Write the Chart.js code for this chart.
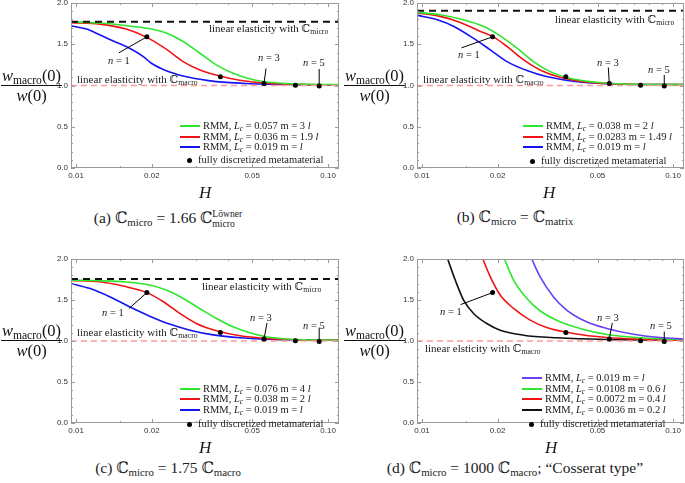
<!DOCTYPE html>
<html>
<head>
<meta charset="utf-8">
<script src="https://cdn.jsdelivr.net/npm/chart.js@4.4.1/dist/chart.umd.min.js"></script>
<style>
  body { margin: 0; background: #fff; }
  #fig { position: relative; width: 685px; height: 483px; overflow: hidden; }
  canvas { position: absolute; }
  .t { position: absolute; font-family: "Liberation Serif", "DejaVu Serif", serif; font-size: 10.5px; line-height: 1; white-space: nowrap; color: #1a1a1a; }
  .t sub { font-size: 70%; vertical-align: -0.25em; line-height: 0; }
  .el { font-size: 11px; }
  .bb { font-family: "DejaVu Serif", "DejaVu Sans", serif; font-style: normal; }
  .frac { position: absolute; font-family: "Liberation Serif", "DejaVu Serif", serif; font-size: 16.5px; line-height: 1.05; text-align: center; color: #111; }
  .frac .num { border-bottom: 1px solid #111; padding: 0 1px 1px; }
  .frac .den { padding-top: 1px; }
  .frac sub { font-size: 70%; vertical-align: -0.25em; line-height: 0; }
  .hl { font-size: 17px; font-style: italic; }
  .cap { font-size: 15.5px; text-align: center; }
  .ss { display: inline-flex; flex-direction: column; font-size: 62%; vertical-align: 6px; line-height: 1; text-align: left; }
  .leg { display: flex; align-items: center; height: 12px; }
  .sw { display: inline-block; width: 20px; border-top: 2px solid; margin-right: 3px; }
  .dot { display: inline-block; width: 5px; height: 5px; border-radius: 50%; background: #000; margin: 0 6px 0 7px; }
</style>
</head>
<body>
<div id="fig">
  <canvas id="chartA" width="305" height="196" style="left:40px;top:-6px"></canvas>
  <canvas id="chartB" width="300" height="196" style="left:385px;top:-6px"></canvas>
  <canvas id="chartC" width="305" height="195" style="left:40px;top:250px"></canvas>
  <canvas id="chartD" width="300" height="195" style="left:385px;top:250px"></canvas>

  <!-- (a) -->
  <div class="frac" style="left:1px;top:67px"><div class="num"><i>w</i><sub>macro</sub>(0)</div><div class="den"><i>w</i>(0)</div></div>
  <div class="t el" style="left:209px;top:23px">linear elasticity with <span class="bb">ℂ</span><sub>micro</sub></div>
  <div class="t el" style="left:77px;top:74px">linear elasticity with <span class="bb">ℂ</span><sub>macro</sub></div>
  <div class="t" style="left:108px;top:56px"><i>n</i> = 1</div>
  <div class="t" style="left:258px;top:53px"><i>n</i> = 3</div>
  <div class="t" style="left:303px;top:58px"><i>n</i> = 5</div>
  <div class="t leg" style="left:180px;top:120px"><span class="sw" style="border-color:#2ee62e"></span><span>RMM, <i>L<sub>c</sub></i> = 0.057 m = 3 <i>l</i></span></div>
  <div class="t leg" style="left:180px;top:131px"><span class="sw" style="border-color:#f01414"></span><span>RMM, <i>L<sub>c</sub></i> = 0.036 m = 1.9 <i>l</i></span></div>
  <div class="t leg" style="left:180px;top:141px"><span class="sw" style="border-color:#1414f0"></span><span>RMM, <i>L<sub>c</sub></i> = 0.019 m = <i>l</i></span></div>
  <div class="t leg" style="left:180px;top:154px"><span class="dot"></span><span>fully discretized metamaterial</span></div>
  <div class="t hl" style="left:199px;top:184px">H</div>
  <div class="t cap" style="left:0px;width:336px;top:209px">(a) <span class="bb">ℂ</span><sub>micro</sub> = 1.66 <span class="bb">ℂ</span><span class="ss"><span>Löwner</span><span>micro</span></span></div>

  <!-- (b) -->
  <div class="frac" style="left:344px;top:67px"><div class="num"><i>w</i><sub>macro</sub>(0)</div><div class="den"><i>w</i>(0)</div></div>
  <div class="t el" style="left:555px;top:14px">linear elasticity with <span class="bb">ℂ</span><sub>micro</sub></div>
  <div class="t el" style="left:423px;top:74px">linear elasticity with <span class="bb">ℂ</span><sub>macro</sub></div>
  <div class="t" style="left:458px;top:50px"><i>n</i> = 1</div>
  <div class="t" style="left:597px;top:58px"><i>n</i> = 3</div>
  <div class="t" style="left:648px;top:65px"><i>n</i> = 5</div>
  <div class="t leg" style="left:523px;top:120px"><span class="sw" style="border-color:#2ee62e"></span><span>RMM, <i>L<sub>c</sub></i> = 0.038 m = 2 <i>l</i></span></div>
  <div class="t leg" style="left:523px;top:131px"><span class="sw" style="border-color:#f01414"></span><span>RMM, <i>L<sub>c</sub></i> = 0.0283 m = 1.49 <i>l</i></span></div>
  <div class="t leg" style="left:523px;top:141px"><span class="sw" style="border-color:#1414f0"></span><span>RMM, <i>L<sub>c</sub></i> = 0.019 m = <i>l</i></span></div>
  <div class="t leg" style="left:523px;top:155px"><span class="dot"></span><span>fully discretized metamaterial</span></div>
  <div class="t hl" style="left:543px;top:184px">H</div>
  <div class="t cap" style="left:345px;width:340px;top:209px">(b) <span class="bb">ℂ</span><sub>micro</sub> = <span class="bb">ℂ</span><sub>matrix</sub></div>

  <!-- (c) -->
  <div class="frac" style="left:1px;top:322px"><div class="num"><i>w</i><sub>macro</sub>(0)</div><div class="den"><i>w</i>(0)</div></div>
  <div class="t el" style="left:202px;top:281px">linear elasticity with <span class="bb">ℂ</span><sub>micro</sub></div>
  <div class="t el" style="left:77px;top:327px">linear elasticity with <span class="bb">ℂ</span><sub>macro</sub></div>
  <div class="t" style="left:102px;top:308px"><i>n</i> = 1</div>
  <div class="t" style="left:250px;top:313px"><i>n</i> = 3</div>
  <div class="t" style="left:303px;top:321px"><i>n</i> = 5</div>
  <div class="t leg" style="left:180px;top:383px"><span class="sw" style="border-color:#2ee62e"></span><span>RMM, <i>L<sub>c</sub></i> = 0.076 m = 4 <i>l</i></span></div>
  <div class="t leg" style="left:180px;top:393px"><span class="sw" style="border-color:#f01414"></span><span>RMM, <i>L<sub>c</sub></i> = 0.038 m = 2 <i>l</i></span></div>
  <div class="t leg" style="left:180px;top:404px"><span class="sw" style="border-color:#1414f0"></span><span>RMM, <i>L<sub>c</sub></i> = 0.019 m = <i>l</i></span></div>
  <div class="t leg" style="left:180px;top:418px"><span class="dot"></span><span>fully discretized metamaterial</span></div>
  <div class="t hl" style="left:199px;top:439px">H</div>
  <div class="t cap" style="left:0px;width:336px;top:460px">(c) <span class="bb">ℂ</span><sub>micro</sub> = 1.75 <span class="bb">ℂ</span><sub>macro</sub></div>

  <!-- (d) -->
  <div class="frac" style="left:344px;top:322px"><div class="num"><i>w</i><sub>macro</sub>(0)</div><div class="den"><i>w</i>(0)</div></div>
  <div class="t el" style="left:425px;top:343px">linear elsticity with <span class="bb">ℂ</span><sub>macro</sub></div>
  <div class="t" style="left:440px;top:307px"><i>n</i> = 1</div>
  <div class="t" style="left:597px;top:313px"><i>n</i> = 3</div>
  <div class="t" style="left:650px;top:321px"><i>n</i> = 5</div>
  <div class="t leg" style="left:522px;top:372px"><span class="sw" style="border-color:#6a40f0"></span><span>RMM, <i>L<sub>c</sub></i> = 0.019 m = <i>l</i></span></div>
  <div class="t leg" style="left:522px;top:383px"><span class="sw" style="border-color:#2ee62e"></span><span>RMM, <i>L<sub>c</sub></i> = 0.0108 m = 0.6 <i>l</i></span></div>
  <div class="t leg" style="left:522px;top:393px"><span class="sw" style="border-color:#f01414"></span><span>RMM, <i>L<sub>c</sub></i> = 0.0072 m = 0.4 <i>l</i></span></div>
  <div class="t leg" style="left:522px;top:404px"><span class="sw" style="border-color:#111"></span><span>RMM, <i>L<sub>c</sub></i> = 0.0036 m = 0.2 <i>l</i></span></div>
  <div class="t leg" style="left:522px;top:418px"><span class="dot"></span><span>fully discretized metamaterial</span></div>
  <div class="t hl" style="left:545px;top:439px">H</div>
  <div class="t cap" style="left:345px;width:340px;top:460px">(d) <span class="bb">ℂ</span><sub>micro</sub> = 1000 <span class="bb">ℂ</span><sub>macro</sub>; “Cosserat type”</div>
</div>

<script>
// axis setup
const H_MIN = 0.00955;
const H_MAX = 0.1105;
const xMajor = [0.01, 0.02, 0.05, 0.1];
const xMajorLabels = ['0.01', '0.02', '0.05', '0.10'];
const xMinor = [0.015, 0.03, 0.04, 0.06, 0.07, 0.08, 0.09];
const yMajor = [0, 0.5, 1, 1.5, 2];
const yMinor = [0.1, 0.2, 0.3, 0.4, 0.6, 0.7, 0.8, 0.9, 1.1, 1.2, 1.3, 1.4, 1.6, 1.7, 1.8, 1.9];

// fully discretized metamaterial (n = 1..5)
const discreteH = [0.0191, 0.0374, 0.0557, 0.0742, 0.0922];
const discreteW = [1.59, 1.105, 1.025, 1.003, 0.993];

// reference levels
const macroLevel = 1.0;
const microLevelA = 1.773;
const microLevelB = 1.907;
const microLevelC = 1.756;

// (a) C_micro = 1.66 C_micro^Loewner   [H, w_macro/w]
const aGreen = [[0.0095,1.773],[0.0124,1.757],[0.0168,1.716],[0.0199,1.684],[0.0228,1.635],[0.0266,1.533],[0.031,1.391],[0.036,1.25],[0.042,1.148],[0.0496,1.075],[0.0569,1.043],[0.0772,1.018],[0.1106,1.01]];
const aRed   = [[0.0095,1.761],[0.0124,1.744],[0.0158,1.684],[0.019,1.586],[0.0228,1.44],[0.0266,1.29],[0.031,1.189],[0.0372,1.115],[0.0446,1.063],[0.0552,1.03],[0.0772,1.014],[0.1106,1.006]];
const aBlue  = [[0.0095,1.724],[0.011,1.684],[0.0124,1.615],[0.0142,1.533],[0.0163,1.452],[0.0185,1.351],[0.0199,1.27],[0.0228,1.18],[0.0266,1.116],[0.031,1.075],[0.036,1.047],[0.0489,1.022],[0.0772,1.01],[0.1106,1.006]];

// (b) C_micro = C_matrix
const bGreen = [[0.0096,1.886],[0.0118,1.858],[0.0146,1.797],[0.0176,1.716],[0.0205,1.602],[0.0239,1.452],[0.0278,1.29],[0.0324,1.168],[0.0388,1.087],[0.0481,1.043],[0.0632,1.018],[0.1106,1.01]];
const bRed   = [[0.0096,1.878],[0.0118,1.838],[0.0142,1.765],[0.0171,1.655],[0.0193,1.586],[0.0218,1.473],[0.0254,1.31],[0.0295,1.189],[0.0355,1.099],[0.0438,1.047],[0.0577,1.022],[0.1106,1.01]];
const bBlue  = [[0.0096,1.85],[0.0115,1.797],[0.0134,1.716],[0.016,1.574],[0.0187,1.432],[0.0218,1.29],[0.0262,1.181],[0.0313,1.108],[0.04,1.051],[0.0544,1.022],[0.1106,1.01]];

// (c) C_micro = 1.75 C_macro
const cGreen = [[0.0095,1.743],[0.0124,1.735],[0.0159,1.719],[0.0196,1.682],[0.0228,1.621],[0.0266,1.519],[0.0309,1.397],[0.0361,1.275],[0.042,1.173],[0.0489,1.1],[0.0569,1.051],[0.0706,1.022],[0.1106,1.01]];
const cRed   = [[0.0095,1.739],[0.0124,1.723],[0.0154,1.67],[0.019,1.593],[0.0222,1.479],[0.0258,1.336],[0.03,1.214],[0.0361,1.124],[0.0447,1.063],[0.0569,1.031],[0.0772,1.014],[0.1106,1.01]];
const cBlue  = [[0.0095,1.703],[0.0113,1.642],[0.0136,1.54],[0.0163,1.417],[0.0196,1.303],[0.0235,1.206],[0.0283,1.132],[0.035,1.075],[0.0447,1.039],[0.0606,1.018],[0.1106,1.01]];

// (d) C_micro = 1000 C_macro, Cosserat type
const dPurple = [[0.02735,2.0],[0.02952,1.784],[0.03334,1.54],[0.03767,1.377],[0.04522,1.234],[0.0544,1.153],[0.0695,1.083],[0.0886,1.043],[0.1106,1.022]];
const dGreen  = [[0.0213,2.0],[0.02315,1.743],[0.02615,1.519],[0.02952,1.369],[0.03546,1.234],[0.04258,1.153],[0.0544,1.079],[0.0737,1.039],[0.1106,1.014]];
const dRed    = [[0.01747,2.0],[0.01869,1.784],[0.02048,1.56],[0.02315,1.397],[0.02695,1.255],[0.03134,1.165],[0.04,1.092],[0.0544,1.043],[0.0737,1.022],[0.1106,1.01]];
const dBlack  = [[0.01265,2.0],[0.01356,1.743],[0.01464,1.499],[0.01604,1.336],[0.01811,1.214],[0.02048,1.132],[0.02535,1.071],[0.0344,1.039],[0.0544,1.018],[0.1106,1.01]];

const GREEN = '#2ee62e', RED = '#f01414', BLUE = '#1414f0', PURPLE = '#6a40f0', BLACK = '#111';

// pointer lines "n = k": [point index, dx, dy] in pixels from the point
const notesA = [[0, -28, 16], [2, 2, -15], [4, 0, -17]];
const notesB = [[0, -31, 11], [2, -1, -16], [4, 0, -11]];
const notesC = [[0, -18, 16], [2, 3, -16], [4, 0, -14]];
const notesD = [[0, -32, 12], [2, 3, -16], [4, 0, -10]];

const frameTicks = {
    id: 'frameTicks',
    afterDraw(chart, args, opts) {
        const { ctx, chartArea: a, scales: { x, y } } = chart;
        ctx.save();
        ctx.strokeStyle = '#9a9a9a';
        ctx.lineWidth = 1;
        ctx.strokeRect(a.left + 0.5, a.top + 0.5, a.right - a.left - 1, a.bottom - a.top - 1);
        ctx.beginPath();
        const xt = (v, len) => {
            const px = Math.round(x.getPixelForValue(v)) + 0.5;
            ctx.moveTo(px, a.bottom); ctx.lineTo(px, a.bottom - len);
            ctx.moveTo(px, a.top); ctx.lineTo(px, a.top + len);
        };
        const yt = (v, len) => {
            const py = Math.round(y.getPixelForValue(v)) + 0.5;
            ctx.moveTo(a.left, py); ctx.lineTo(a.left + len, py);
            ctx.moveTo(a.right, py); ctx.lineTo(a.right - len, py);
        };
        xMajor.forEach(v => xt(v, 4));
        xMinor.forEach(v => xt(v, 2));
        yMajor.forEach(v => yt(v, 4));
        yMinor.forEach(v => yt(v, 2));
        ctx.stroke();

        // pointer lines to the discrete points
        ctx.strokeStyle = '#000';
        ctx.beginPath();
        (opts.notes || []).forEach(([i, dx, dy]) => {
            const px = x.getPixelForValue(discreteH[i]);
            const py = y.getPixelForValue(discreteW[i]);
            ctx.moveTo(px, py);
            ctx.lineTo(px + dx, py + dy);
        });
        ctx.stroke();
        ctx.restore();
    }
};

function curve(pts, color, order) {
    return {
        data: pts.map(p => ({ x: p[0], y: p[1] })),
        borderColor: color, borderWidth: 1.6, pointRadius: 0,
        cubicInterpolationMode: 'monotone', fill: false, order: order
    };
}

function level(v, color, width, dash) {
    return {
        data: [{ x: H_MIN, y: v }, { x: H_MAX, y: v }],
        borderColor: color, borderWidth: width, borderDash: dash,
        pointRadius: 0, fill: false, order: 1
    };
}

function makeChart(id, curves, micro, notes, yWidth, padRight) {
    const datasets = curves.slice();
    datasets.push(level(macroLevel, '#ff9a9a', 1.5, [6, 4]));
    if (micro !== null) datasets.push(level(micro, '#111', 2, [7, 5]));
    datasets.push({
        data: discreteH.map((h, i) => ({ x: h, y: discreteW[i] })),
        showLine: false, pointRadius: 2.5, pointBackgroundColor: '#000',
        pointBorderWidth: 0, order: 0
    });

    return new Chart(document.getElementById(id), {
        type: 'line',
        data: { datasets: datasets },
        options: {
            responsive: false,
            animation: false,
            devicePixelRatio: 1,
            layout: { autoPadding: false, padding: { top: 9, right: padRight, left: 0, bottom: 0 } },
            plugins: { legend: { display: false }, tooltip: { enabled: false }, frameTicks: { notes: notes } },
            scales: {
                x: {
                    type: 'logarithmic', min: H_MIN, max: H_MAX,
                    grid: { display: false, drawTicks: false }, border: { display: false },
                    afterBuildTicks: s => { s.ticks = xMajor.map(v => ({ value: v })); },
                    afterFit: s => { s.height = 22; },
                    ticks: {
                        autoSkip: false, maxRotation: 0, padding: 3, color: '#333',
                        font: { family: 'Liberation Sans, Arial, sans-serif', size: 8 },
                        callback: (v) => xMajorLabels[xMajor.indexOf(v)] || ''
                    }
                },
                y: {
                    min: 0, max: 2,
                    grid: { display: false, drawTicks: false }, border: { display: false },
                    afterBuildTicks: s => { s.ticks = yMajor.map(v => ({ value: v })); },
                    afterFit: s => { s.width = yWidth; },
                    ticks: {
                        padding: 3, color: '#333',
                        font: { family: 'Liberation Sans, Arial, sans-serif', size: 8 },
                        callback: (v) => v.toFixed(1)
                    }
                }
            }
        },
        plugins: [frameTicks]
    });
}

makeChart('chartA', [curve(aGreen, GREEN, 3), curve(aRed, RED, 4), curve(aBlue, BLUE, 5)], microLevelA, notesA, 31, 6);
makeChart('chartB', [curve(bGreen, GREEN, 3), curve(bRed, RED, 4), curve(bBlue, BLUE, 5)], microLevelB, notesB, 32, 1);
makeChart('chartC', [curve(cGreen, GREEN, 3), curve(cRed, RED, 4), curve(cBlue, BLUE, 5)], microLevelC, notesC, 31, 6);
makeChart('chartD', [curve(dPurple, PURPLE, 3), curve(dGreen, GREEN, 4), curve(dRed, RED, 5), curve(dBlack, BLACK, 6)], null, notesD, 32, 1);
</script>
</body>
</html>
